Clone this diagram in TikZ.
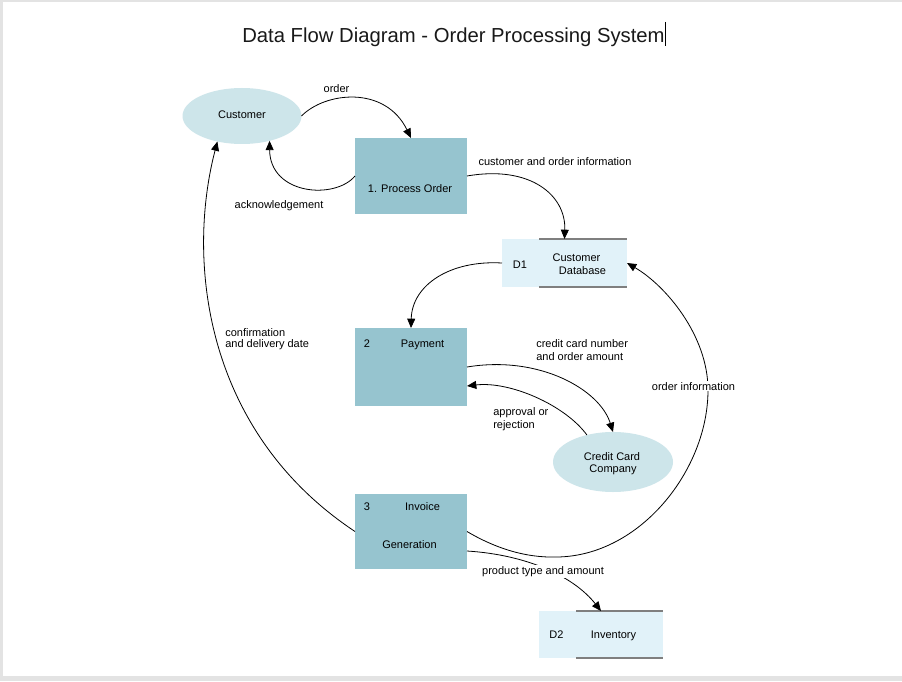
\documentclass[tikz,border=0pt]{standalone}
\usepackage{fontspec}
\setmainfont{Liberation Sans}
\usetikzlibrary{arrows.meta,shapes.geometric}
\definecolor{procfill}{HTML}{96C4CF}
\definecolor{entfill}{HTML}{CDE5EA}
\definecolor{storefill}{HTML}{E1F2F9}
\definecolor{framegray}{HTML}{E3E3E3}
\definecolor{storeline}{HTML}{7F7F7F}
\begin{document}
\begin{tikzpicture}[x=0.75pt,y=-0.75pt,
  proc/.style={rectangle,fill=procfill,inner sep=0,outer sep=0,minimum width=84pt},
  ent/.style={ellipse,fill=entfill,inner sep=0,outer sep=0},
  store/.style={rectangle,fill=storefill,inner sep=0,outer sep=0},
  storeedge/.style={draw=storeline,line width=1pt},
  lbl/.style={font=\fontsize{8.25}{9.75}\selectfont,inner sep=0,anchor=base},
  lbll/.style={lbl,anchor=base west},
  onlinelbl/.style={lbl,fill=white,inner sep=1pt},
  flow/.style={draw=black,line width=0.6pt,-{Triangle[length=7pt,width=6pt]}}]
\useasboundingbox (0,0) rectangle (902,681);
\fill[framegray] (0,0) rectangle (902,681);
\fill[white] (3,2) rectangle (902,676);

% title
\node[font=\fontsize{15.2}{18}\selectfont,text=black!90,inner sep=0,anchor=base] (title) at (453.5,43) {Data Flow Diagram - Order Processing System};
\draw[line width=0.8pt] (665.5,22) -- (665.5,46);

% nodes
\node[ent,minimum width=89.25pt,minimum height=42pt] (cust) at (242,116) {};
\node[proc,minimum height=57pt] (po) at (411,176) {};
\node[proc,minimum height=58.5pt] (pay) at (411,367) {};
\node[proc,minimum height=56.25pt] (inv) at (411,531.5) {};
\node[ent,minimum width=90pt,minimum height=45pt] (ccc) at (613,462) {};
\node[store,minimum width=93.75pt,minimum height=36pt] (ds1) at (564.5,263) {};
\node[store,minimum width=93pt,minimum height=35.25pt] (ds2) at (601,634.5) {};
\draw[storeedge] ([xshift=27.75pt]ds1.north west) -- (ds1.north east);
\draw[storeedge] ([xshift=27.75pt]ds1.south west) -- (ds1.south east);
\draw[storeedge] ([xshift=27.75pt]ds2.north west) -- (ds2.north east);
\draw[storeedge] ([xshift=27.75pt]ds2.south west) -- (ds2.south east);

% texts in nodes
\node[lbl] (tcust) at (242,119) {Customer};
\node[lbl] (tpo) at (410,192) {1. Process Order};
\node[lbl] (td1) at (520,268) {D1};
\node[lbl] (tcdb1) at (576.5,261) {Customer};
\node[lbl] (tcdb2) at (582.5,274) {Database};
\node[lbl] (tpay1) at (367,347) {2};
\node[lbl] (tpay2) at (422.5,347) {Payment};
\node[lbl] (tccc1) at (612,460) {Credit Card};
\node[lbl] (tccc2) at (613,472) {Company};
\node[lbl] (tinv1) at (367,510) {3};
\node[lbl] (tinv2) at (422.5,510) {Invoice};
\node[lbl] (tinv3) at (409.5,548) {Generation};
\node[lbl] (td2) at (556.5,638) {D2};
\node[lbl] (tinvent) at (613.5,638) {Inventory};

% flows
\draw[flow] (cust.east) .. controls (325,92) and (385,85) .. (po.north);
\draw[flow] (po.west) .. controls (335,200) and (270,195) .. (cust.-42);
\draw[flow] (po.east) .. controls (530,165) and (566,195) .. (ds1.north);
\draw[flow] (ds1.west) .. controls (450,260) and (412,285) .. (pay.north);
\draw[flow] (pay.east) .. controls (540,355) and (600,390) .. (ccc.north);
\draw[flow] (ccc.134) .. controls (565,405) and (510,381) .. ([yshift=15pt]pay.south east);
\draw[flow] (inv.west) .. controls (205,432) and (186,262) .. (cust.226);
\draw[flow] (inv.east) .. controls (495,548) and (525,558) .. (557,557)
   .. controls (640,556) and (708,470) .. (708,390)
   .. controls (708,335) and (665,285) .. (ds1.east);
\draw[flow] ([yshift=13.5pt]inv.south east) .. controls (530,555) and (575,578) .. (ds2.north);

% flow labels
\node[lbl] (lorder) at (336.5,93) {order};
\node[lbl] (lack) at (279,208) {acknowledgement};
\node[lbl] (lcoi) at (555,166) {customer and order information};
\node[lbll] (lcc1) at (536,347) {credit card number};
\node[lbll] (lcc2) at (536,360) {and order amount};
\node[lbll] (lap1) at (493,415) {approval or};
\node[lbll] (lap2) at (493,428) {rejection};
\node[lbll] (lcf1) at (225,336) {confirmation};
\node[lbll] (lcf2) at (225,347) {and delivery date};
\node[onlinelbl] (loi) at (693.5,390) {order information};
\node[onlinelbl] (lpt) at (543,574) {product type and amount};
\end{tikzpicture}
\end{document}
